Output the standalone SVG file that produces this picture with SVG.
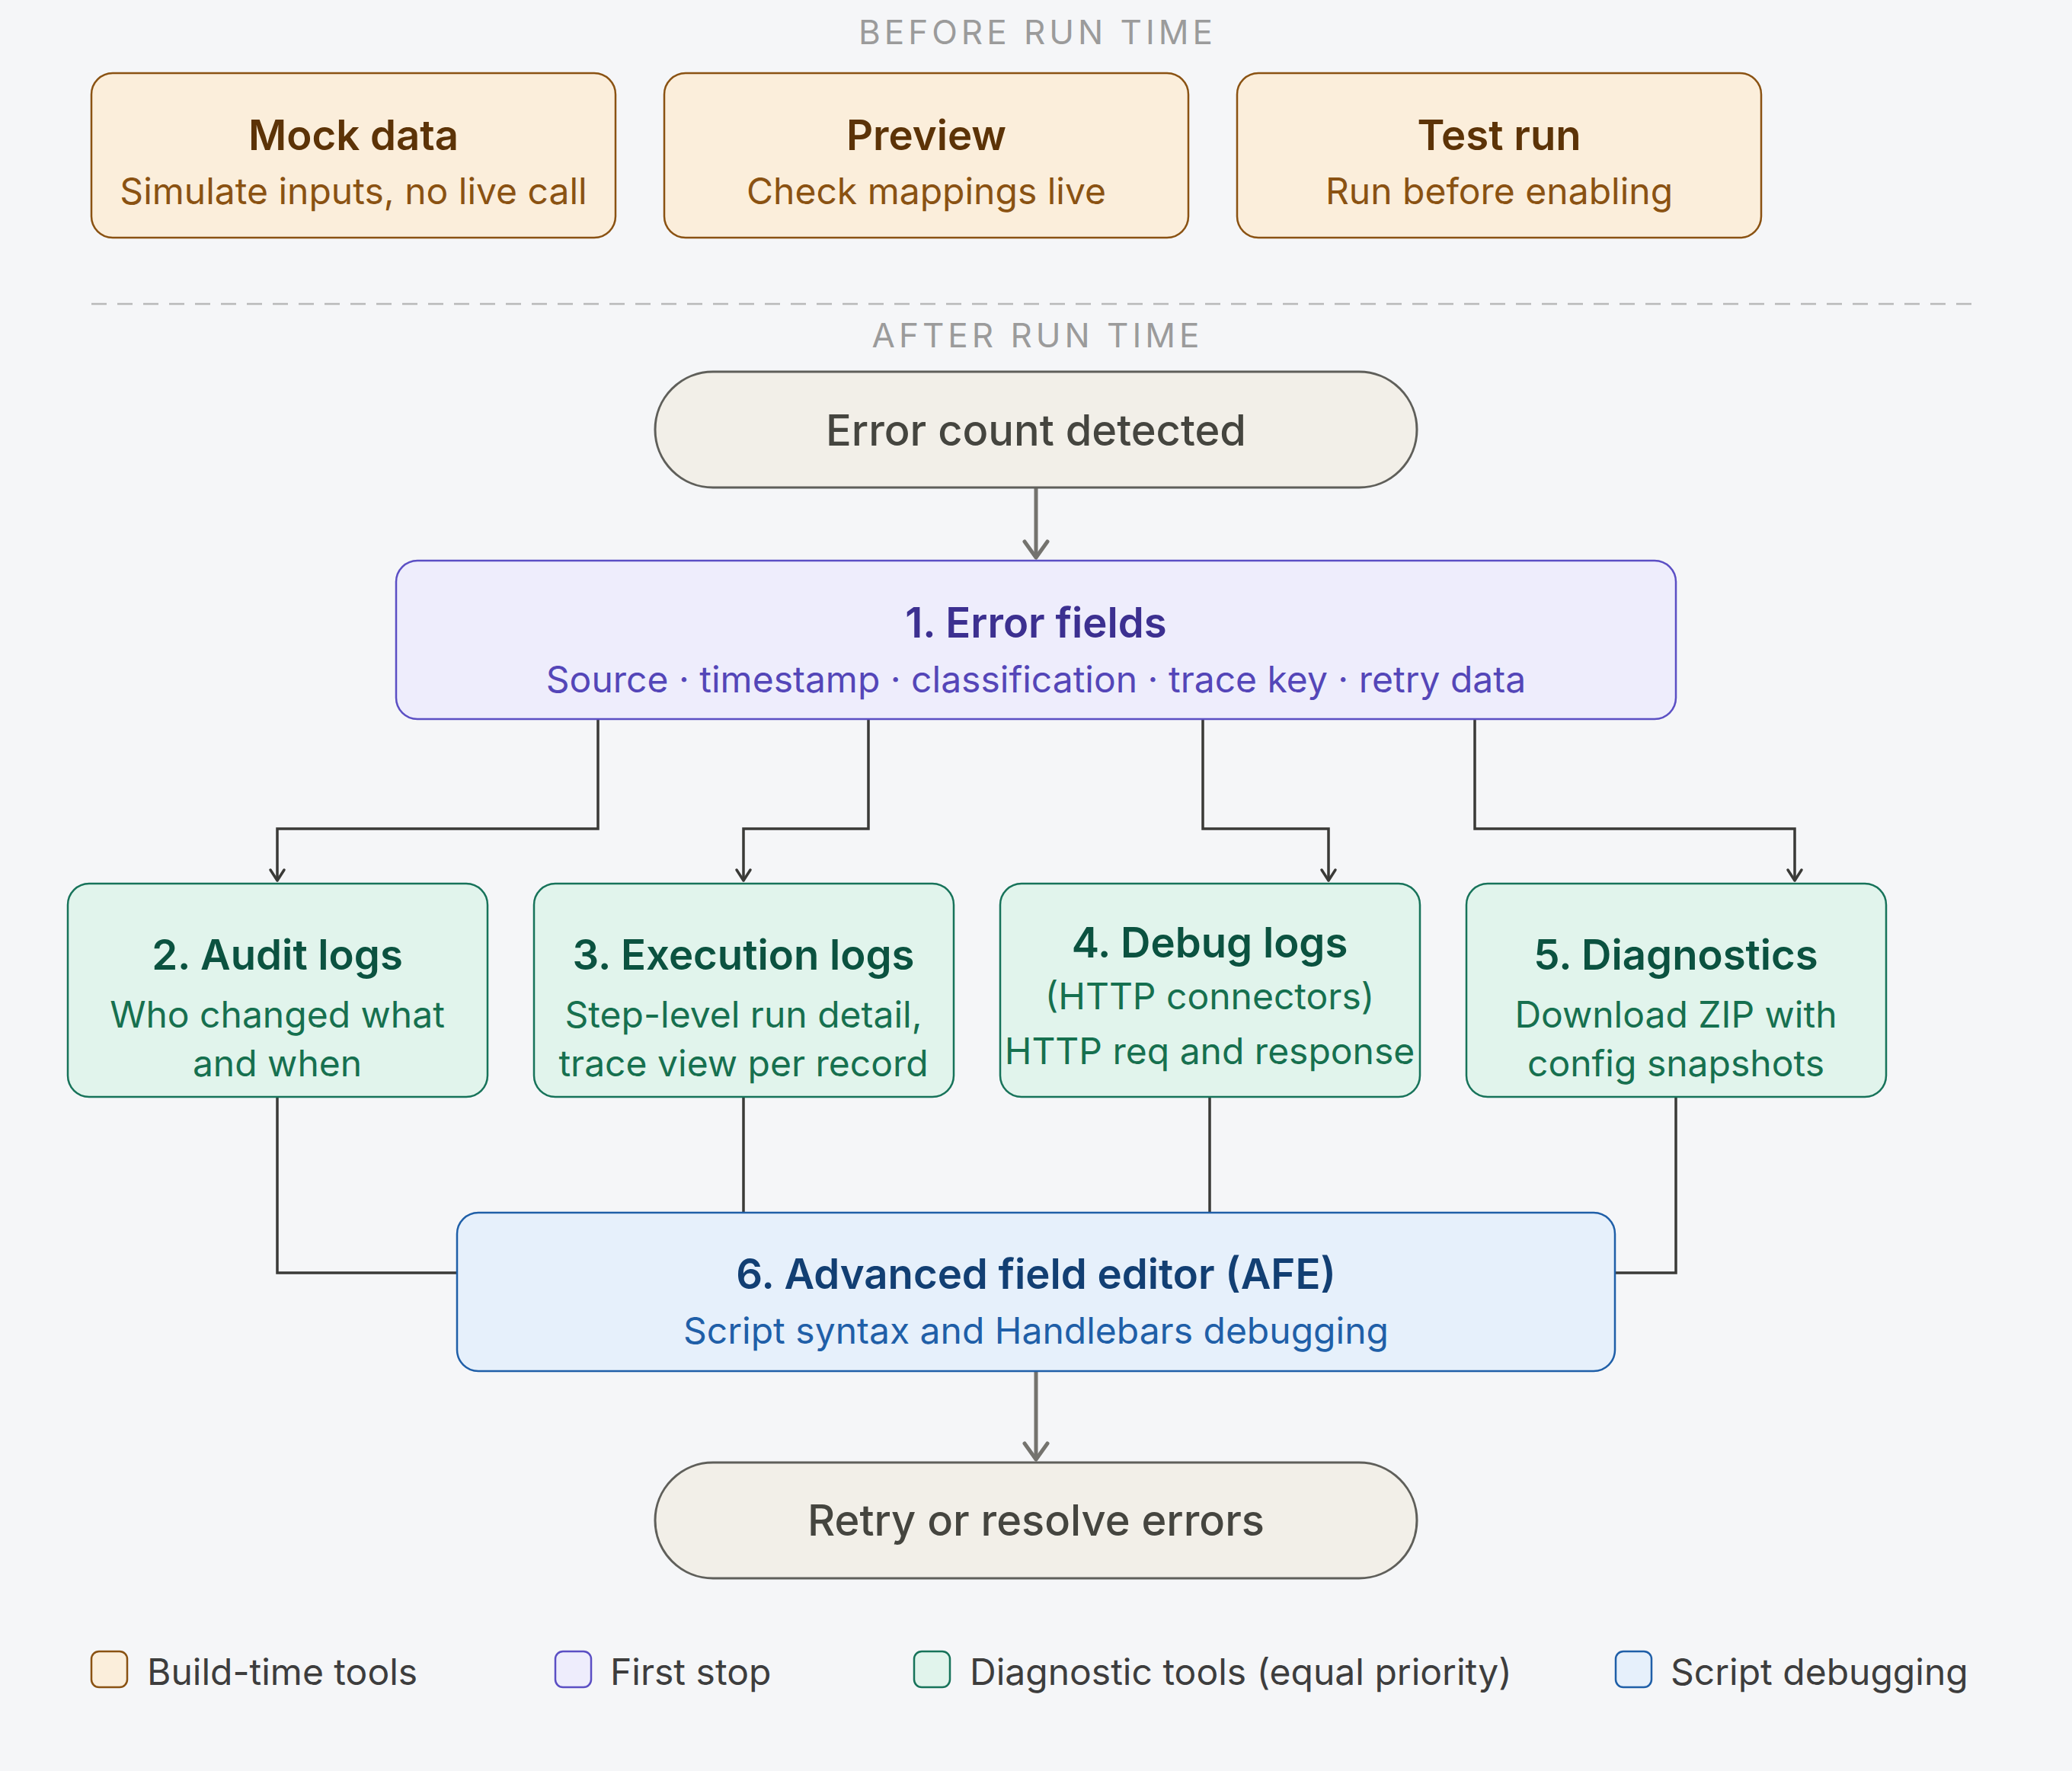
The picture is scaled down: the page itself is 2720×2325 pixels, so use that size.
<svg xmlns="http://www.w3.org/2000/svg" width="2720" height="2325" viewBox="0 0 2720 2325">
<style>
text{font-family:Inter,"Noto Sans","Liberation Sans",sans-serif;text-anchor:middle}
.sec{font-size:44px;fill:#9b9b9b;letter-spacing:5px}
.t{font-size:54.5px;font-weight:600}
.s{font-size:48px}
.pill{fill:#f2efe8;stroke:#5f5f5a;stroke-width:3}
.pt{font-size:56px;font-weight:500;fill:#45453f}
.bt rect{fill:#fbeedb;stroke:#8a5212;stroke-width:2.5}
.bt .t{fill:#5c3307}.bt .s{fill:#8a5212}
.ef rect{fill:#eeedfc;stroke:#5b4fc4;stroke-width:2.5}
.ef .t{fill:#3c3090}.ef .s{fill:#5446b8}
.dg rect{fill:#e1f4ec;stroke:#17735a;stroke-width:2.5}
.dg .t{fill:#0b5240}.dg .s{fill:#16704f}
.afe rect{fill:#e6f0fb;stroke:#1f5fa8;stroke-width:2.5}
.afe .t{fill:#123f73}.afe .s{fill:#1f5fa8}
.main{fill:none;stroke:#74736e;stroke-width:5}
.sub{fill:none;stroke:#3a3a37;stroke-width:3.5}
.lg{font-size:48px;fill:#3d3d3d;text-anchor:start}
</style>
<defs>
<marker id="ag" viewBox="-28 -20 32 40" refX="0" refY="0" markerWidth="32" markerHeight="40" markerUnits="userSpaceOnUse" orient="auto"><path d="M-21,-15 L0,0 L-21,15" fill="none" stroke="#74736e" stroke-width="5" stroke-linecap="round" stroke-linejoin="round"/></marker>
<marker id="ad" viewBox="-20 -14 24 28" refX="0" refY="0" markerWidth="24" markerHeight="28" markerUnits="userSpaceOnUse" orient="auto"><path d="M-14,-9 L0,0 L-14,9" fill="none" stroke="#3a3a37" stroke-width="3.5" stroke-linecap="round" stroke-linejoin="round"/></marker>
</defs>
<rect width="2720" height="2325" fill="#f5f6f8"/>
<text class="sec" x="1362" y="58">BEFORE RUN TIME</text>
<g id="mock" class="bt"><rect x="120" y="96" width="688" height="216" rx="28"/><text class="t" x="464" y="197">Mock data</text><text class="s" x="464" y="268">Simulate inputs, no live call</text></g>
<g id="preview" class="bt"><rect x="872" y="96" width="688" height="216" rx="28"/><text class="t" x="1216" y="197">Preview</text><text class="s" x="1216" y="268">Check mappings live</text></g>
<g id="testrun" class="bt"><rect x="1624" y="96" width="688" height="216" rx="28"/><text class="t" x="1968" y="197">Test run</text><text class="s" x="1968" y="268">Run before enabling</text></g>
<line x1="120" y1="399" x2="2600" y2="399" stroke="#b9b9b9" stroke-width="2.5" stroke-dasharray="20 14"/>
<text class="sec" x="1362" y="456">AFTER RUN TIME</text>
<g id="connectors">
<path class="main" d="M1360,640 L1360,732" marker-end="url(#ag)"/>
<path class="sub" d="M785,944 V1088 H364 V1156" marker-end="url(#ad)"/>
<path class="sub" d="M1140,944 V1088 H976 V1156" marker-end="url(#ad)"/>
<path class="sub" d="M1579,944 V1088 H1744 V1156" marker-end="url(#ad)"/>
<path class="sub" d="M1936,944 V1088 H2356 V1156" marker-end="url(#ad)"/>
<path class="sub" d="M364,1440 V1671 H600"/>
<path class="sub" d="M976,1440 V1592"/>
<path class="sub" d="M1588,1440 V1592"/>
<path class="sub" d="M2200,1440 V1671 H2120"/>
<path class="main" d="M1360,1800 L1360,1916" marker-end="url(#ag)"/>
</g>
<g id="start"><rect class="pill" x="860" y="488" width="1000" height="152" rx="76"/><text class="pt" x="1360" y="585">Error count detected</text></g>
<g id="errfields" class="ef"><rect x="520" y="736" width="1680" height="208" rx="28"/><text class="t" x="1360" y="837">1. Error fields</text><text class="s" x="1360" y="909">Source · timestamp · classification · trace key · retry data</text></g>
<g id="audit" class="dg"><rect x="89" y="1160" width="551" height="280" rx="28"/><text class="t" x="364" y="1273">2. Audit logs</text><text class="s" x="364" y="1349">Who changed what</text><text class="s" x="364" y="1413">and when</text></g>
<g id="exec" class="dg"><rect x="701" y="1160" width="551" height="280" rx="28"/><text class="t" x="976" y="1273">3. Execution logs</text><text class="s" x="976" y="1349">Step-level run detail,</text><text class="s" x="976" y="1413">trace view per record</text></g>
<g id="debug" class="dg"><rect x="1313" y="1160" width="551" height="280" rx="28"/><text class="t" x="1588" y="1257">4. Debug logs</text><text class="s" x="1588" y="1325">(HTTP connectors)</text><text class="s" x="1588" y="1397">HTTP req and response</text></g>
<g id="diag" class="dg"><rect x="1925" y="1160" width="551" height="280" rx="28"/><text class="t" x="2200" y="1273">5. Diagnostics</text><text class="s" x="2200" y="1349">Download ZIP with</text><text class="s" x="2200" y="1413">config snapshots</text></g>
<g id="afe" class="afe"><rect x="600" y="1592" width="1520" height="208" rx="28"/><text class="t" x="1360" y="1692">6. Advanced field editor (AFE)</text><text class="s" x="1360" y="1764">Script syntax and Handlebars debugging</text></g>
<g id="end"><rect class="pill" x="860" y="1920" width="1000" height="152" rx="76"/><text class="pt" x="1360" y="2016">Retry or resolve errors</text></g>
<g id="legend">
<rect x="120" y="2168" width="47" height="47" rx="10" fill="#fbeedb" stroke="#8a5212" stroke-width="2.5"/><text class="lg" x="193" y="2212">Build-time tools</text>
<rect x="729" y="2168" width="47" height="47" rx="10" fill="#eeedfc" stroke="#5b4fc4" stroke-width="2.5"/><text class="lg" x="801" y="2212">First stop</text>
<rect x="1200" y="2168" width="47" height="47" rx="10" fill="#e1f4ec" stroke="#17735a" stroke-width="2.5"/><text class="lg" x="1273" y="2212">Diagnostic tools (equal priority)</text>
<rect x="2121" y="2168" width="47" height="47" rx="10" fill="#e6f0fb" stroke="#1f5fa8" stroke-width="2.5"/><text class="lg" x="2193" y="2212">Script debugging</text>
</g>
</svg>
